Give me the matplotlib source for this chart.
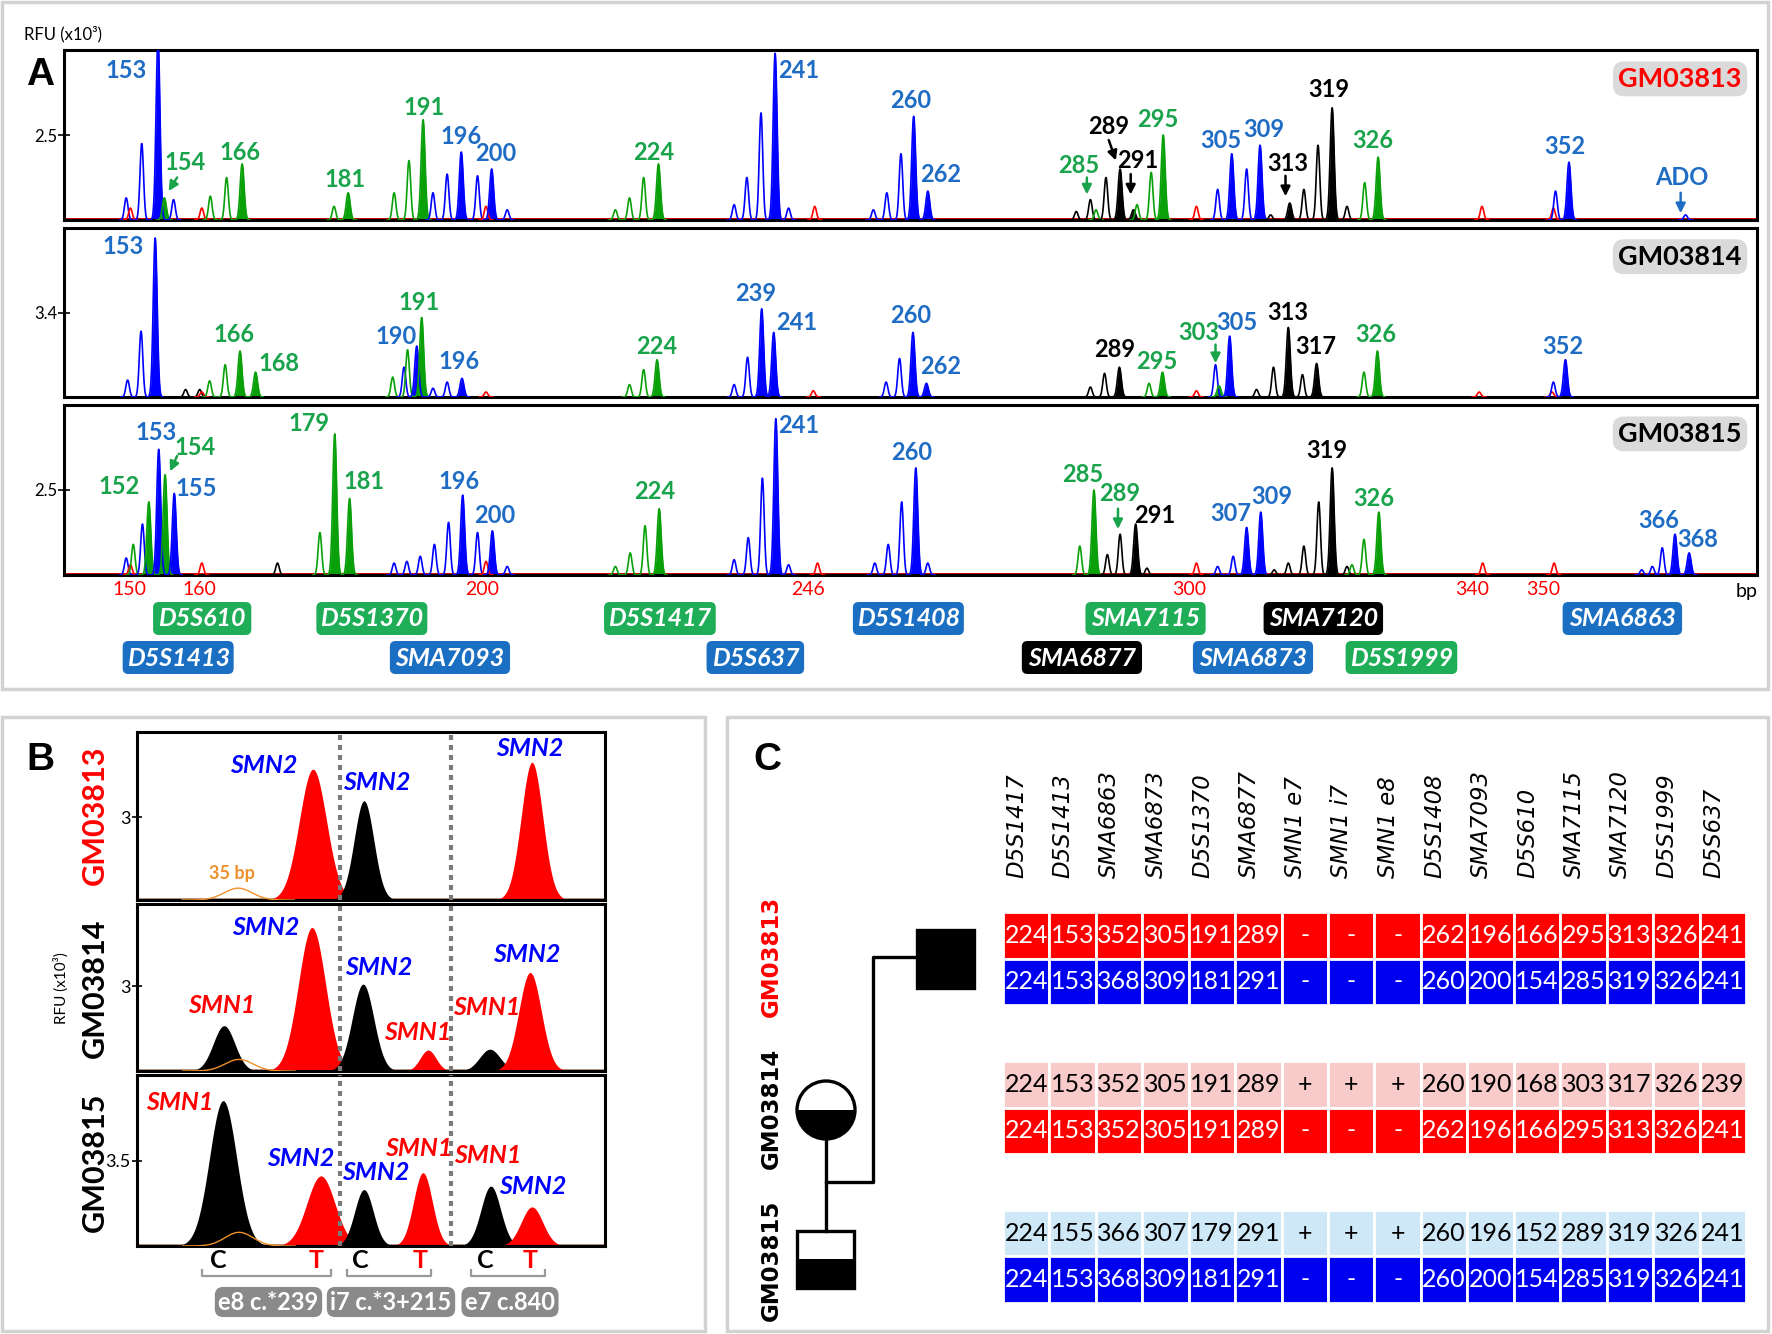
import numpy as np
import matplotlib
matplotlib.use('Agg')
import matplotlib.pyplot as plt
from matplotlib.patches import Rectangle, FancyBboxPatch, Circle, Wedge
from matplotlib.transforms import blended_transform_factory

plt.rcParams['font.family'] = ['Lato', 'DejaVu Sans']

W, H = 1772, 1334

TRACE = {'b': '#0000ff', 'g': '#0aa00a', 'k': '#000000', 'r': '#ff0000', 'o': '#f0902c'}
LABEL = {'b': '#1f6cc4', 'g': '#19a34b', 'k': '#000000'}
BOXC = {'b': '#1a6fc2', 'g': '#1fae57', 'k': '#000000'}

# ---------------- panel A : electropherograms ----------------
samples = ['GM03813', 'GM03814', 'GM03815']
sample_colors = ['#ff0000', '#000000', '#000000']
a_ymax = [5.0, 6.8, 5.0]
a_ytick = [2.5, 3.4, 2.5]
size_std = [150, 160, 200, 246, 300, 340, 350]

# (size bp, height RFU x10^3, dye, filled)
peaks_3813 = [
    (149.6, 0.65, 'b', 0), (150.2, 0.35, 'r', 0), (151.8, 2.25, 'b', 0), (154.1, 5.3, 'b', 1),
    (155.0, 0.65, 'g', 1), (156.3, 0.6, 'b', 0), (160.3, 0.35, 'r', 0), (161.5, 0.7, 'g', 0),
    (163.8, 1.25, 'g', 0), (166.0, 1.65, 'g', 1), (179.0, 0.4, 'g', 0), (181.0, 0.8, 'g', 1),
    (187.5, 0.8, 'g', 0), (189.6, 1.75, 'g', 0), (191.6, 2.95, 'g', 1), (193.0, 0.8, 'b', 0),
    (195.0, 1.35, 'b', 0), (197.0, 2.0, 'b', 1), (199.3, 1.3, 'b', 0), (200.5, 0.4, 'r', 0),
    (201.3, 1.5, 'b', 1), (203.5, 0.3, 'b', 0), (218.8, 0.3, 'g', 0), (220.8, 0.65, 'g', 0),
    (222.8, 1.25, 'g', 0), (224.9, 1.65, 'g', 1), (235.6, 0.45, 'b', 0), (237.4, 1.25, 'b', 0),
    (239.4, 3.15, 'b', 0), (241.4, 4.9, 'b', 1), (243.3, 0.35, 'b', 0), (247.0, 0.4, 'r', 0),
    (255.3, 0.3, 'b', 0), (257.2, 0.8, 'b', 0), (259.2, 1.95, 'b', 0), (261.0, 3.05, 'b', 1),
    (263.0, 0.85, 'b', 1), (284.0, 0.25, 'k', 0), (286.0, 0.6, 'k', 0), (286.8, 0.3, 'g', 0),
    (288.2, 1.25, 'k', 0), (290.2, 1.5, 'k', 1), (292.1, 0.3, 'k', 1), (292.6, 0.45, 'g', 0),
    (294.6, 1.4, 'g', 0), (296.3, 2.5, 'g', 1), (301.0, 0.4, 'r', 0), (304.0, 0.9, 'b', 0),
    (306.0, 1.95, 'b', 1), (308.1, 1.5, 'b', 0), (310.0, 2.2, 'b', 1), (311.5, 0.15, 'k', 0),
    (314.2, 0.5, 'k', 1), (316.2, 0.9, 'k', 0), (318.2, 2.2, 'k', 0), (320.2, 3.3, 'k', 1),
    (322.3, 0.4, 'k', 0), (324.8, 1.1, 'g', 0), (326.7, 1.85, 'g', 1), (341.4, 0.4, 'r', 0),
    (351.5, 0.35, 'r', 0), (351.8, 0.85, 'b', 0), (353.7, 1.7, 'b', 1), (370.2, 0.15, 'b', 0),
]
peaks_3814 = [
    (149.8, 0.68, 'b', 0), (151.7, 2.65, 'b', 0), (153.7, 6.4, 'b', 1), (158.0, 0.3, 'k', 0),
    (160.0, 0.3, 'k', 0), (160.3, 0.2, 'r', 0), (161.4, 0.65, 'g', 0), (163.6, 1.3, 'g', 0),
    (165.7, 1.85, 'g', 1), (167.9, 1.0, 'g', 1), (187.3, 0.8, 'g', 0), (188.9, 1.2, 'b', 0),
    (189.4, 1.9, 'g', 0), (190.7, 2.05, 'b', 1), (191.4, 3.2, 'g', 1), (193.0, 0.35, 'b', 0),
    (195.0, 0.6, 'b', 0), (197.1, 0.75, 'b', 1), (200.5, 0.2, 'r', 0), (220.8, 0.5, 'g', 0),
    (222.8, 1.1, 'g', 0), (224.7, 1.5, 'g', 1), (235.6, 0.5, 'b', 0), (237.5, 1.6, 'b', 0),
    (239.5, 3.55, 'b', 1), (241.2, 2.6, 'b', 1), (246.8, 0.25, 'r', 0), (257.1, 0.6, 'b', 0),
    (259.0, 1.55, 'b', 0), (260.9, 2.6, 'b', 1), (262.8, 0.55, 'b', 1), (286.0, 0.4, 'k', 0),
    (288.0, 0.95, 'k', 0), (290.1, 1.2, 'k', 1), (294.3, 0.55, 'g', 0), (296.2, 1.0, 'g', 1),
    (301.0, 0.25, 'r', 0), (303.7, 1.3, 'b', 0), (304.2, 0.45, 'g', 1), (305.7, 2.45, 'b', 1),
    (309.5, 0.3, 'k', 0), (311.9, 1.2, 'k', 0), (314.0, 2.8, 'k', 1), (316.0, 0.9, 'k', 0),
    (318.0, 1.35, 'k', 1), (324.7, 1.0, 'g', 0), (326.6, 1.85, 'g', 1), (341.0, 0.2, 'r', 0),
    (351.3, 0.2, 'r', 0), (351.5, 0.6, 'b', 0), (353.2, 1.5, 'b', 1),
]
peaks_3815 = [
    (149.6, 0.5, 'b', 0), (150.2, 0.3, 'r', 0), (150.6, 0.9, 'g', 0), (151.9, 1.5, 'b', 0),
    (152.8, 2.15, 'g', 1), (154.2, 3.7, 'b', 1), (155.1, 2.95, 'g', 1), (156.4, 2.4, 'b', 1),
    (160.3, 0.35, 'r', 0), (171.0, 0.35, 'k', 0), (177.0, 1.25, 'g', 0), (179.1, 4.15, 'g', 1),
    (181.2, 2.25, 'g', 1), (187.5, 0.35, 'b', 0), (189.3, 0.4, 'b', 0), (191.2, 0.55, 'b', 0),
    (193.2, 0.9, 'b', 0), (195.2, 1.55, 'b', 0), (197.2, 2.35, 'b', 1), (199.3, 1.25, 'b', 0),
    (200.5, 0.4, 'r', 0), (201.4, 1.3, 'b', 1), (203.5, 0.25, 'b', 0), (218.8, 0.25, 'g', 0),
    (220.9, 0.65, 'g', 0), (223.0, 1.45, 'g', 0), (225.0, 1.95, 'g', 1), (235.6, 0.45, 'b', 0),
    (237.6, 1.1, 'b', 0), (239.6, 2.85, 'b', 0), (241.5, 4.6, 'b', 1), (243.3, 0.3, 'b', 0),
    (247.4, 0.35, 'r', 0), (255.5, 0.35, 'b', 0), (257.4, 0.9, 'b', 0), (259.3, 2.15, 'b', 0),
    (261.3, 3.15, 'b', 1), (263.0, 0.35, 'b', 0), (284.5, 0.85, 'g', 0), (286.5, 2.5, 'g', 1),
    (288.4, 0.6, 'k', 0), (290.2, 1.2, 'k', 0), (292.4, 1.5, 'k', 1), (294.0, 0.2, 'k', 0),
    (301.0, 0.35, 'r', 0), (304.0, 0.25, 'b', 0), (306.2, 0.55, 'b', 0), (308.1, 1.4, 'b', 1),
    (310.1, 1.85, 'b', 1), (312.0, 0.15, 'k', 0), (314.0, 0.35, 'k', 0), (316.2, 0.85, 'k', 0),
    (318.3, 2.15, 'k', 0), (320.2, 3.15, 'k', 1), (322.3, 0.25, 'k', 0), (323.0, 0.3, 'g', 0),
    (324.7, 1.05, 'g', 0), (326.8, 1.85, 'g', 1), (341.5, 0.35, 'r', 0), (351.6, 0.35, 'r', 0),
    (364.0, 0.15, 'b', 0), (365.5, 0.25, 'b', 0), (366.9, 0.8, 'b', 0), (368.7, 1.2, 'b', 1),
    (370.7, 0.65, 'b', 1),
]

# allele calls: (text, size position, height fraction of track, dye)
calls_3813 = [
    ('153', 149.6, 0.88, 'b'), ('154', 157.9, 0.34, 'g'), ('166', 165.7, 0.40, 'g'),
    ('181', 180.6, 0.24, 'g'), ('191', 191.7, 0.66, 'g'), ('196', 196.9, 0.49, 'b'),
    ('200', 201.9, 0.39, 'b'), ('224', 224.2, 0.40, 'g'), ('241', 244.7, 0.88, 'b'),
    ('260', 260.6, 0.70, 'b'), ('262', 264.8, 0.27, 'b'), ('285', 284.3, 0.32, 'g'),
    ('289', 288.6, 0.55, 'k'), ('291', 292.7, 0.35, 'k'), ('295', 295.6, 0.59, 'g'),
    ('305', 304.5, 0.47, 'b'), ('309', 310.5, 0.53, 'b'), ('313', 313.9, 0.33, 'k'),
    ('319', 319.7, 0.77, 'k'), ('326', 325.9, 0.47, 'g'), ('352', 353.1, 0.43, 'b'),
    ('ADO', 369.7, 0.25, 'b'),
]
calls_3814 = [
    ('153', 149.1, 0.89, 'b'), ('166', 164.9, 0.37, 'g'), ('168', 171.2, 0.20, 'g'),
    ('190', 187.8, 0.36, 'b'), ('191', 191.0, 0.56, 'g'), ('196', 196.7, 0.21, 'b'),
    ('224', 224.6, 0.30, 'g'), ('239', 238.7, 0.61, 'b'), ('241', 244.5, 0.44, 'b'),
    ('260', 260.6, 0.48, 'b'), ('262', 264.8, 0.18, 'b'), ('289', 289.4, 0.28, 'k'),
    ('295', 295.4, 0.21, 'g'), ('303', 301.3, 0.38, 'g'), ('305', 306.7, 0.44, 'b'),
    ('313', 313.9, 0.50, 'k'), ('317', 317.9, 0.30, 'k'), ('326', 326.3, 0.37, 'g'),
    ('352', 352.8, 0.30, 'b'),
]
calls_3815 = [
    ('152', 148.6, 0.52, 'g'), ('153', 153.9, 0.84, 'b'), ('154', 159.4, 0.75, 'g'),
    ('155', 159.5, 0.51, 'b'), ('179', 175.5, 0.89, 'g'), ('181', 183.2, 0.55, 'g'),
    ('196', 196.7, 0.55, 'b'), ('200', 201.7, 0.35, 'b'), ('224', 224.3, 0.49, 'g'),
    ('241', 244.7, 0.88, 'b'), ('260', 260.7, 0.72, 'b'), ('285', 284.9, 0.59, 'g'),
    ('289', 290.2, 0.48, 'g'), ('291', 295.1, 0.35, 'k'), ('307', 305.9, 0.36, 'b'),
    ('309', 311.6, 0.46, 'b'), ('319', 319.5, 0.73, 'k'), ('326', 326.1, 0.45, 'g'),
    ('366', 366.4, 0.32, 'b'), ('368', 371.9, 0.21, 'b'),
]
# arrows: (dye, from size, from frac, to size, to frac)
arrows_3813 = [('g', 156.8, 0.25, 155.6, 0.17), ('g', 285.5, 0.25, 285.5, 0.15),
               ('k', 288.6, 0.47, 289.6, 0.35), ('k', 291.7, 0.27, 291.7, 0.15),
               ('k', 313.6, 0.26, 313.6, 0.14), ('b', 369.5, 0.16, 369.5, 0.04)]
arrows_3814 = [('g', 303.7, 0.31, 303.7, 0.20)]
arrows_3815 = [('g', 156.8, 0.70, 155.8, 0.61), ('g', 289.9, 0.39, 289.9, 0.27)]

peaks_a = [peaks_3813, peaks_3814, peaks_3815]
calls_a = [calls_3813, calls_3814, calls_3815]
arrows_a = [arrows_3813, arrows_3814, arrows_3815]

markers = ['D5S610', 'D5S1413', 'D5S1370', 'SMA7093', 'D5S1417', 'D5S637', 'D5S1408',
           'SMA6877', 'SMA7115', 'SMA6873', 'SMA7120', 'D5S1999', 'SMA6863']
marker_dye = ['g', 'b', 'g', 'b', 'g', 'b', 'b', 'k', 'g', 'b', 'k', 'g', 'b']
marker_start = [153.4, 149.1, 176.5, 186.9, 217.2, 231.7, 252.4, 276.3, 285.3, 300.5, 310.5, 322.1, 352.8]
marker_end = [167.3, 164.8, 192.2, 203.9, 233.0, 245.5, 268.1, 293.3, 302.3, 317.5, 327.4, 337.9, 369.7]
marker_row = [0, 1, 0, 1, 0, 1, 0, 1, 0, 1, 0, 1, 0]

# ---------------- panel B : SNaPshot ----------------
b_ymax = [6.1, 5.9, 7.0]
b_ytick = [3, 3, 3.5]
# (position, height RFU x10^3, width, dye)
snp_3813 = [(21.6, 0.43, 3.0, 'o'), (37.6, 4.75, 2.9, 'r'), (48.5, 3.6, 2.1, 'k'), (84.4, 5.0, 2.3, 'r')]
snp_3814 = [(18.6, 1.6, 2.3, 'k'), (21.8, 0.41, 3.0, 'o'), (37.4, 5.07, 2.9, 'r'), (48.3, 3.07, 2.3, 'k'),
            (62.2, 0.74, 1.7, 'r'), (75.4, 0.77, 2.2, 'k'), (84.0, 3.48, 2.4, 'r')]
snp_3815 = [(18.4, 5.95, 2.9, 'k'), (21.8, 0.56, 3.0, 'o'), (39.3, 2.87, 3.0, 'r'), (48.5, 2.31, 2.0, 'k'),
            (61.1, 3.0, 2.0, 'r'), (75.6, 2.45, 2.1, 'k'), (84.4, 1.6, 2.3, 'r')]
snp_labels_3813 = [('SMN2', 27.1, 0.80, 'b'), ('SMN2', 51.3, 0.70, 'b'), ('SMN2', 84.0, 0.90, 'b')]
snp_labels_3814 = [('SMN1', 18.2, 0.39, 'r'), ('SMN2', 27.6, 0.86, 'b'), ('SMN2', 51.7, 0.62, 'b'),
                   ('SMN1', 60.0, 0.23, 'r'), ('SMN1', 74.8, 0.38, 'r'), ('SMN2', 83.3, 0.70, 'b')]
snp_labels_3815 = [('SMN1', 9.2, 0.84, 'r'), ('SMN2', 35.0, 0.51, 'b'), ('SMN2', 51.1, 0.43, 'b'),
                   ('SMN1', 60.3, 0.57, 'r'), ('SMN1', 75.0, 0.53, 'r'), ('SMN2', 84.6, 0.35, 'b')]
snp_sites = ['e8 c.*239', 'i7 c.*3+215', 'e7 c.840']
snp_split = [43.4, 67.1]

# ---------------- panel C : haplotypes ----------------
loci = ['D5S1417', 'D5S1413', 'SMA6863', 'SMA6873', 'D5S1370', 'SMA6877', 'SMN1 e7', 'SMN1 i7',
        'SMN1 e8', 'D5S1408', 'SMA7093', 'D5S610', 'SMA7115', 'SMA7120', 'D5S1999', 'D5S637']
hap_red = ['224', '153', '352', '305', '191', '289', '-', '-', '-', '262', '196', '166', '295', '313', '326', '241']
hap_blue = ['224', '153', '368', '309', '181', '291', '-', '-', '-', '260', '200', '154', '285', '319', '326', '241']
hap_pink = ['224', '153', '352', '305', '191', '289', '+', '+', '+', '260', '190', '168', '303', '317', '326', '239']
hap_lblue = ['224', '155', '366', '307', '179', '291', '+', '+', '+', '260', '196', '152', '289', '319', '326', '241']
hap_rows = [hap_red, hap_blue, hap_pink, hap_red, hap_lblue, hap_blue]
hap_fill = ['#ff0000', '#0000f0', '#f8caca', '#ff0000', '#cfe8f8', '#0000f0']
hap_text = ['white', 'white', 'black', 'white', 'black', 'white']
hap_slot = [0, 1, 3.2, 4.2, 6.4, 7.4]


def px_rect(x0, y0, x1, y1):
    return [x0 / W, 1 - y1 / H, (x1 - x0) / W, (y1 - y0) / H]


fig = plt.figure(figsize=(W / 100, H / 100), dpi=100)
cv = fig.add_axes([0, 0, 1, 1], zorder=0)
cv.set_xlim(0, W)
cv.set_ylim(H, 0)
cv.axis('off')

# panel frames and letters
for (x0, y0, x1, y1) in [(2, 2, 1768, 689), (2, 717, 705, 1331), (727, 717, 1768, 1331)]:
    cv.add_patch(Rectangle((x0, y0), x1 - x0, y1 - y0, fill=False, ec='#d2d2d2', lw=2.5))
for letter, x, y in [('A', 40, 75), ('B', 40, 760), ('C', 767, 760)]:
    cv.text(x, y, letter, fontsize=28, fontweight='bold', ha='center', va='center',
            family=['Liberation Sans', 'DejaVu Sans'])
cv.text(24, 34, 'RFU (x10\u00b3)', fontsize=12, ha='left', va='center')

# ---- panel A
XL = (140.8, 380.3)
a_rows = [(50, 220), (228, 397), (405, 575)]
xs = np.linspace(XL[0], XL[1], 9000)
for i, (y0, y1) in enumerate(a_rows):
    ax = fig.add_axes(px_rect(64, y0, 1757, y1), zorder=2)
    ax.set_xlim(*XL)
    ax.set_ylim(0, a_ymax[i])
    for dye in ['b', 'g', 'k', 'r']:
        ax.axhline(0.02, color=TRACE[dye], lw=1.2, zorder=1)
    for bp, h, dye, filled in peaks_a[i]:
        s = 0.28 if filled else 0.25
        m = np.abs(xs - bp) < 4 * s
        yy = h * np.exp(-0.5 * ((xs[m] - bp) / s) ** 2)
        if filled:
            ax.fill_between(xs[m], 0, yy, color=TRACE[dye], lw=0, zorder=2)
        ax.plot(xs[m], yy, color=TRACE[dye], lw=1.2, zorder=3)
    for txt, bp, fr, dye in calls_a[i]:
        ax.text(bp, fr * a_ymax[i], txt, color=LABEL[dye], fontsize=17, fontweight='bold',
                ha='center', va='center', zorder=5)
    for dye, bx, fy, tx, ty in arrows_a[i]:
        ax.annotate('', xy=(tx, ty * a_ymax[i]), xytext=(bx, fy * a_ymax[i]),
                    arrowprops=dict(arrowstyle='-|>', color=LABEL[dye], lw=1.8,
                                    mutation_scale=14, shrinkA=0, shrinkB=0), zorder=5)
    ax.text(0.991, 0.83, samples[i], transform=ax.transAxes, ha='right', va='center',
            fontsize=19.5, fontweight='bold', color=sample_colors[i], zorder=6,
            bbox=dict(boxstyle='round,pad=0.2,rounding_size=0.4', fc='#dadada', ec='none'))
    for sp in ax.spines.values():
        sp.set_linewidth(2.2)
    ax.set_yticks([a_ytick[i]])
    ax.set_yticklabels([str(a_ytick[i])])
    ax.tick_params(axis='y', direction='inout', length=8, width=1.2, labelsize=12, pad=1)
    if i < 2:
        ax.set_xticks([])
    else:
        ax.set_xticks(size_std)
        ax.set_xticklabels([str(v) for v in size_std])
        ax.tick_params(axis='x', length=0, pad=4, labelsize=14, labelcolor='#ff0000')
        tr = blended_transform_factory(ax.transData, ax.transAxes)
        ax.text(378.9, -0.095, 'bp', transform=tr, fontsize=14, ha='center', va='center')

# marker boxes
axm = fig.add_axes(px_rect(64, 598, 1757, 680), zorder=2)
axm.set_xlim(*XL)
axm.set_ylim(82, 0)
axm.axis('off')
row_top = [4, 43]
for name, dye, st, en, r in zip(markers, marker_dye, marker_start, marker_end, marker_row):
    axm.add_patch(FancyBboxPatch((st, row_top[r]), en - st, 33,
                                 boxstyle='round,pad=0,rounding_size=0.8', mutation_aspect=7.07,
                                 fc=BOXC[dye], ec='none'))
    axm.text((st + en) / 2, row_top[r] + 17, name, color='white', fontsize=18,
             style='italic', fontweight='bold', ha='center', va='center')

# ---- panel B
b_rows = [(732, 900), (904, 1071), (1075, 1246)]
snp_peaks = [snp_3813, snp_3814, snp_3815]
snp_labels = [snp_labels_3813, snp_labels_3814, snp_labels_3815]
xb = np.linspace(0, 100, 3000)
BCOL = {'r': '#ff0000', 'b': '#0000ff'}
for i, (y0, y1) in enumerate(b_rows):
    ax = fig.add_axes(px_rect(137, y0, 605, y1), zorder=2)
    ax.set_xlim(0, 100)
    ax.set_ylim(0, b_ymax[i])
    for c in ['#00a000', '#000000', '#ff0000']:
        ax.axhline(0.03, color=c, lw=1.0, zorder=1)
    for pos, h, s, dye in snp_peaks[i]:
        m = np.abs(xb - pos) < 4 * s
        yy = h * np.exp(-0.5 * ((xb[m] - pos) / s) ** 2)
        if dye == 'o':
            ax.plot(xb[m], yy, color=TRACE['o'], lw=1.0, zorder=3)
        else:
            ax.fill_between(xb[m], 0, yy, color=TRACE[dye], lw=0, zorder=2)
    for xv in snp_split:
        ax.axvline(xv, color='#7a7a7a', lw=3, ls=(0, (1.2, 1.2)), zorder=4)
    for txt, xp, fr, c in snp_labels[i]:
        ax.text(xp, fr * b_ymax[i], txt, color=BCOL[c], fontsize=18, style='italic',
                fontweight='bold', ha='center', va='center', zorder=5)
    if i == 0:
        ax.text(20.3, 0.16 * b_ymax[i], '35 bp', color=TRACE['o'], fontsize=13,
                fontweight='bold', ha='center', va='center', zorder=5)
    for sp in ax.spines.values():
        sp.set_linewidth(2.2)
    ax.set_xticks([])
    ax.set_yticks([b_ytick[i]])
    ax.set_yticklabels([str(b_ytick[i])])
    ax.tick_params(axis='y', direction='inout', length=7, width=1.2, labelsize=13, pad=1)

for name, c, y in zip(samples, sample_colors, [815, 988, 1162]):
    cv.text(95, y, name, rotation=90, color=c, fontsize=22, fontweight='bold',
            ha='center', va='center')
cv.text(61, 988, 'RFU (x10\u00b3)', rotation=90, fontsize=11, ha='center', va='center')

for x0, x1, xc, xt, site in [(202, 331, 218, 316, 0), (347, 431, 360, 420, 1), (471, 545, 485, 530, 2)]:
    cv.plot([x0, x0, x1, x1], [1270, 1276, 1276, 1270], color='#9a9a9a', lw=1.6)
    cv.text(xc, 1261, 'C', color='black', fontsize=18, fontweight='bold', ha='center', va='center')
    cv.text(xt, 1261, 'T', color='#ff0000', fontsize=18, fontweight='bold', ha='center', va='center')
    cv.text((x0 + x1) / 2 + 2, 1302, snp_sites[site], color='white', fontsize=17, fontweight='bold',
            ha='center', va='center',
            bbox=dict(boxstyle='round,pad=0.15,rounding_size=0.35', fc='#8a8a8a', ec='none'))

# ---- panel C
axt = fig.add_axes(px_rect(1003, 912, 1746, 1303), zorder=2)
axt.set_xlim(0, 16)
axt.set_ylim(8.4, 0)
axt.axis('off')
for row, fill, tc, slot in zip(hap_rows, hap_fill, hap_text, hap_slot):
    for j, v in enumerate(row):
        axt.add_patch(Rectangle((j, slot), 1, 1, fc=fill, ec='white', lw=2))
        axt.text(j + 0.5, slot + 0.5, v, color=tc, fontsize=18, ha='center', va='center')
for j, name in enumerate(loci):
    axt.text(j + 0.3, -0.72, name, rotation=90, fontsize=16.5, style='italic',
             family='DejaVu Sans', ha='center', va='bottom', clip_on=False)

for name, c, y in zip(samples, sample_colors, [956, 1108, 1260]):
    cv.text(771, y, name, rotation=90, color=c, fontsize=16.5, fontweight='bold',
            family='DejaVu Sans', ha='center', va='center')

# pedigree
lw_p = 2.4
cv.add_patch(Rectangle((917, 930), 57, 58, fc='black', ec='black', lw=lw_p))
cv.plot([917, 873, 873, 826], [957, 957, 1182, 1182], color='black', lw=lw_p)
cv.plot([826, 826], [1139, 1231], color='black', lw=lw_p)
cv.add_patch(Wedge((826, 1110), 29, 0, 180, fc='black', ec='none'))
cv.add_patch(Circle((826, 1110), 29, fill=False, ec='black', lw=lw_p))
cv.add_patch(Rectangle((797, 1259), 57, 29, fc='black', ec='none'))
cv.add_patch(Rectangle((797, 1231), 57, 57, fill=False, ec='black', lw=lw_p))

fig.savefig('out.png', dpi=100)
